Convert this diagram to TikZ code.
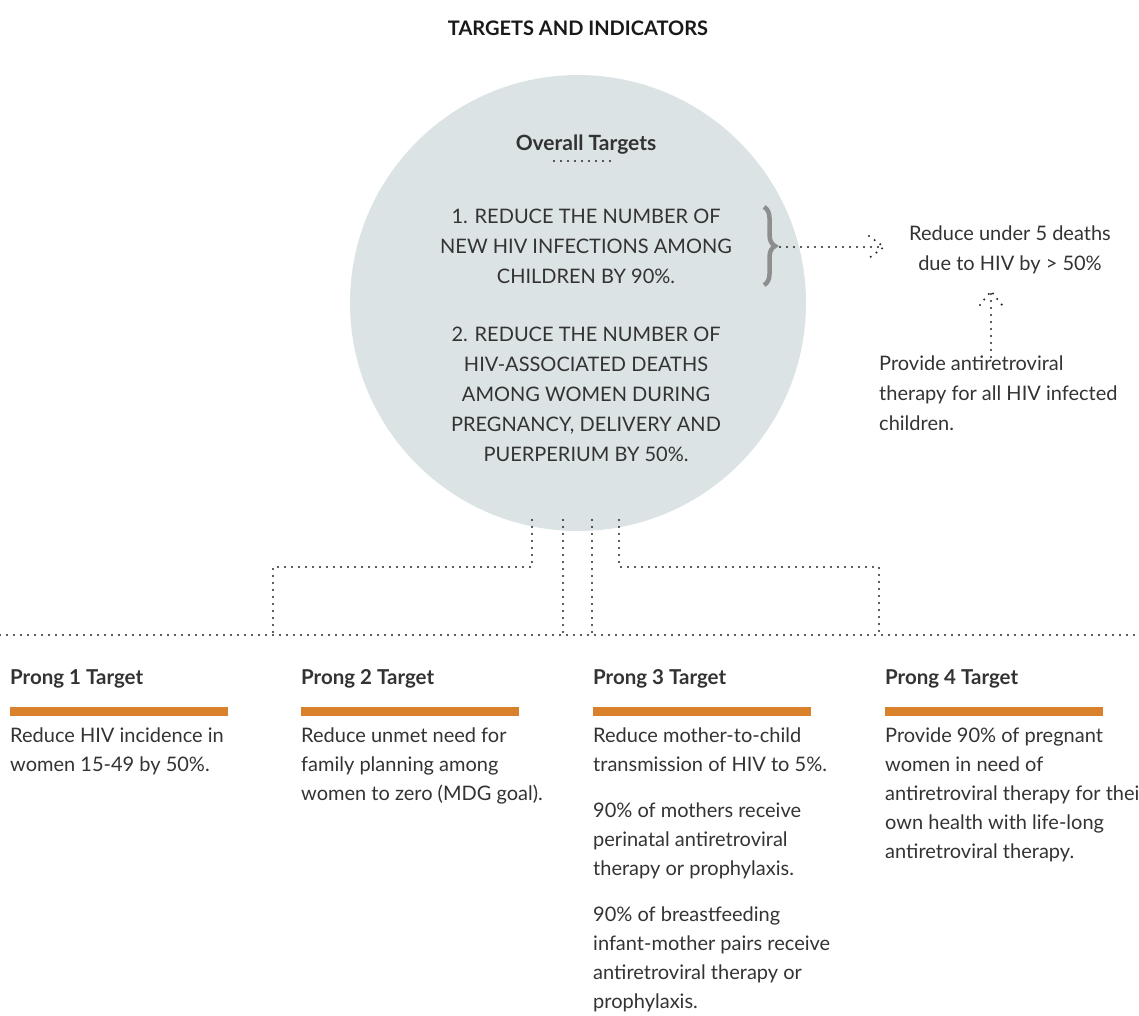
\documentclass[tikz,border=0pt]{standalone}
\usepackage{fontspec}
\setmainfont{Lato}
\usetikzlibrary{positioning,calc,decorations.pathreplacing}

\definecolor{disc}{HTML}{DCE3E5}
\definecolor{ink}{HTML}{333333}
\definecolor{bar}{HTML}{D9822B}
\definecolor{bracegray}{HTML}{8E8E8E}

\tikzset{
  link/.style={black!85, line width=2.3pt, line cap=round, dash pattern=on 0pt off 7pt},
  goal/.style={font=\fontsize{20}{30}\selectfont, text=ink, align=center, inner sep=0pt, anchor=north},
  body/.style={font=\fontsize{20}{29}\selectfont, text=ink, align=left, inner sep=0pt, anchor=north west},
  head/.style={font=\bfseries\fontsize{20.5}{24}\selectfont, text=ink, inner sep=0pt, anchor=base west},
}

\begin{document}
\begin{tikzpicture}[x=1pt,y=-1pt]
  \useasboundingbox (0,0) rectangle (1139,1015);

  \node[font=\bfseries\fontsize{20}{24}\selectfont, text=black!90, inner sep=0pt, anchor=base] (title) at (578,35) {TARGETS AND INDICATORS};

  % the disc with the two overall targets
  \node[circle, fill=disc, minimum size=456pt, inner sep=0pt] (overall) at (578,303) {};
  \node[font=\bfseries\fontsize{21}{24}\selectfont, text=ink, inner sep=0pt, anchor=base] (otitle) at (586,150) {Overall Targets};
  \draw[link] (554,161) -- (617,161);
  \node[goal] (goal1) at (586,209) {1. REDUCE THE NUMBER OF\\NEW HIV INFECTIONS AMONG\\CHILDREN BY 90\%.};
  \node[goal] (goal2) at (586,327) {2. REDUCE THE NUMBER OF\\HIV-ASSOCIATED DEATHS\\AMONG WOMEN DURING\\PREGNANCY, DELIVERY AND\\PUERPERIUM BY 50\%.};

  % brace and indicators on the right
  \draw[bracegray, line width=4.5pt, decorate, decoration={brace, amplitude=11pt}] (764,207) -- (764,285);
  \coordinate (brtip) at (780,247);
  \coordinate (tipA) at (884,247);
  \node[font=\fontsize{20}{30}\selectfont, text=ink, align=center, inner sep=0pt, anchor=north] (under5) at (1010,226) {Reduce under 5 deaths\\due to HIV by > 50\%};
  \node[body, font=\fontsize{20}{30}\selectfont] (art) at (879,356) {Provide antiretroviral\\therapy for all HIV infected\\children.};
  \coordinate (artTop) at (991,357);
  \coordinate (tipB) at (991,291);

  \draw[link] (brtip) -- (tipA);
  \draw[link] ($(tipA)+(-15,-11)$) -- (tipA) -- ($(tipA)+(-15,11)$);
  \draw[link] (artTop) -- (tipB);
  \draw[link] ($(tipB)+(-11,14)$) -- (tipB) -- ($(tipB)+(11,14)$);

  % connectors down to the prongs
  \coordinate (c1) at (532,520);
  \coordinate (c2) at (563,520);
  \coordinate (c3) at (592,520);
  \coordinate (c4) at (619,520);
  \coordinate (bend) at (0,567);
  \coordinate (k1) at (273,635);
  \coordinate (k4) at (879,635);
  \coordinate (railL) at (0,635);
  \coordinate (railR) at (1139,635);

  \draw[link] (c1) -- (c1 |- bend) -| (k1);
  \draw[link] (c4) -- (c4 |- bend) -| (k4);
  \draw[link] (c2) -- (c2 |- railL);
  \draw[link] (c3) -- (c3 |- railL);
  \draw[link] (railL) -- (railR);

  % the four prongs
  \foreach \n/\x in {1/10,2/301,3/593,4/885} {
    \node[head] (h\n) at (\x,684) {Prong \n{} Target};
    \fill[bar] (\x,707) rectangle ++(218,9);
  }

  \node[body] (p1) at (10,728) {Reduce HIV incidence in\\women 15-49 by 50\%.};
  \node[body] (p2) at (301,728) {Reduce unmet need for\\family planning among\\women to zero (MDG goal).};
  \node[body] (p3) at (593,728) {Reduce mother-to-child\\transmission of HIV to 5\%.\\[17pt]90\% of mothers receive\\perinatal antiretroviral\\therapy or prophylaxis.\\[17pt]90\% of breastfeeding\\infant-mother pairs receive\\antiretroviral therapy or\\prophylaxis.};
  \node[body] (p4) at (885,728) {Provide 90\% of pregnant\\women in need of\\antiretroviral therapy for their\\own health with life-long\\antiretroviral therapy.};
\end{tikzpicture}
\end{document}
